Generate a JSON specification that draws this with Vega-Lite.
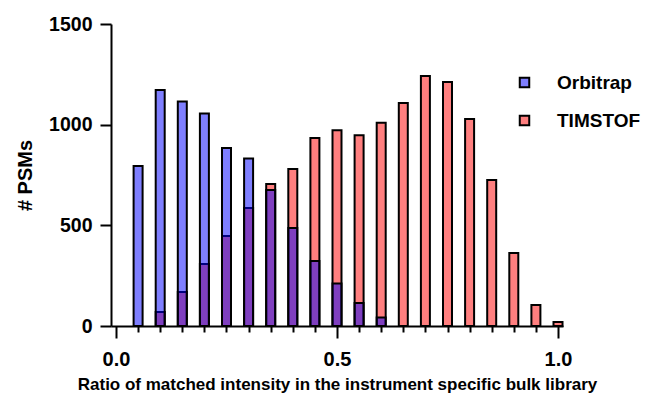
{
  "$schema": "https://vega.github.io/schema/vega-lite/v6.json",
  "autosize": {"type": "none"},
  "padding": {"left": 111, "top": 24, "right": 91, "bottom": 67},
  "width": 452,
  "height": 302,
  "background": "white",
  "config": {
    "view": {"stroke": null},
    "font": "Liberation Sans",
    "axis": {"domainColor": "black", "domainWidth": 2, "tickColor": "black", "tickWidth": 2, "grid": false, "labelColor": "black", "titleColor": "black", "labelFontWeight": "bold", "titleFontWeight": "bold", "labelFont": "Liberation Sans", "titleFont": "Liberation Sans"},
    "legend": {"labelFont": "Liberation Sans"}
  },
  "data": {"values": [
    {"ratio": 0.1, "instrument": "TIMSTOF", "psms": 70},
    {"ratio": 0.15, "instrument": "TIMSTOF", "psms": 169},
    {"ratio": 0.2, "instrument": "TIMSTOF", "psms": 308},
    {"ratio": 0.25, "instrument": "TIMSTOF", "psms": 447},
    {"ratio": 0.3, "instrument": "TIMSTOF", "psms": 586},
    {"ratio": 0.35, "instrument": "TIMSTOF", "psms": 705},
    {"ratio": 0.4, "instrument": "TIMSTOF", "psms": 780},
    {"ratio": 0.45, "instrument": "TIMSTOF", "psms": 934},
    {"ratio": 0.5, "instrument": "TIMSTOF", "psms": 972},
    {"ratio": 0.55, "instrument": "TIMSTOF", "psms": 947},
    {"ratio": 0.6, "instrument": "TIMSTOF", "psms": 1010},
    {"ratio": 0.65, "instrument": "TIMSTOF", "psms": 1108},
    {"ratio": 0.7, "instrument": "TIMSTOF", "psms": 1242},
    {"ratio": 0.75, "instrument": "TIMSTOF", "psms": 1212},
    {"ratio": 0.8, "instrument": "TIMSTOF", "psms": 1028},
    {"ratio": 0.85, "instrument": "TIMSTOF", "psms": 725},
    {"ratio": 0.9, "instrument": "TIMSTOF", "psms": 362},
    {"ratio": 0.95, "instrument": "TIMSTOF", "psms": 104},
    {"ratio": 1.0, "instrument": "TIMSTOF", "psms": 20},
    {"ratio": 0.05, "instrument": "Orbitrap", "psms": 795},
    {"ratio": 0.1, "instrument": "Orbitrap", "psms": 1172},
    {"ratio": 0.15, "instrument": "Orbitrap", "psms": 1115},
    {"ratio": 0.2, "instrument": "Orbitrap", "psms": 1055},
    {"ratio": 0.25, "instrument": "Orbitrap", "psms": 884},
    {"ratio": 0.3, "instrument": "Orbitrap", "psms": 832},
    {"ratio": 0.35, "instrument": "Orbitrap", "psms": 676},
    {"ratio": 0.4, "instrument": "Orbitrap", "psms": 487},
    {"ratio": 0.45, "instrument": "Orbitrap", "psms": 323},
    {"ratio": 0.5, "instrument": "Orbitrap", "psms": 211},
    {"ratio": 0.55, "instrument": "Orbitrap", "psms": 114},
    {"ratio": 0.6, "instrument": "Orbitrap", "psms": 42}
  ]},
  "mark": {"type": "bar", "size": 9, "stroke": "black", "strokeWidth": 2, "fillOpacity": 1, "opacity": 1},
  "encoding": {
    "x": {
      "field": "ratio", "type": "quantitative",
      "scale": {"domain": [0, 1], "nice": false, "zero": false},
      "axis": {
        "values": [0, 0.05, 0.1, 0.15, 0.2, 0.25, 0.3, 0.35, 0.4, 0.45, 0.5, 0.55, 0.6, 0.65, 0.7, 0.75, 0.8, 0.85, 0.9, 0.95, 1.0],
        "labelExpr": "abs(datum.value*2 - round(datum.value*2)) < 0.000001 ? format(datum.value, '.1f') : ''",
        "tickSize": {"condition": {"test": "abs(datum.value*2 - round(datum.value*2)) < 0.000001", "value": 12}, "value": 6},
        "labelPadding": 11,
        "labelFontSize": 20,
        "labelOverlap": false,
        "labelFlush": false,
        "title": "Ratio of matched intensity in the instrument specific bulk library",
        "titleFontSize": 17,
        "titlePadding": 7
      }
    },
    "y": {
      "field": "psms", "type": "quantitative", "stack": null,
      "scale": {"domain": [0, 1500], "nice": false},
      "axis": {
        "values": [0, 500, 1000, 1500],
        "format": "d",
        "tickSize": 11,
        "labelPadding": 8,
        "labelFontSize": 19.5,
        "title": "# PSMs",
        "titleFontSize": 20,
        "titleX": -76,
        "titleY": 151,
        "titleAngle": -90,
        "titleBaseline": "bottom",
        "titleAlign": "center"
      }
    },
    "color": {
      "field": "instrument", "type": "nominal",
      "scale": {"domain": ["Orbitrap", "TIMSTOF"], "range": ["rgba(0,0,255,0.5)", "rgba(255,0,0,0.5)"]},
      "legend": {
        "orient": "none", "legendX": 404, "legendY": 49,
        "title": null,
        "symbolType": "square", "symbolSize": 90,
        "symbolStrokeColor": "black", "symbolStrokeWidth": 2,
        "labelFontSize": 19, "labelFontWeight": "bold", "labelColor": "black",
        "labelOffset": 23, "rowPadding": 18
      }
    },
    "order": {"field": "instrument", "sort": "descending"}
  }
}
